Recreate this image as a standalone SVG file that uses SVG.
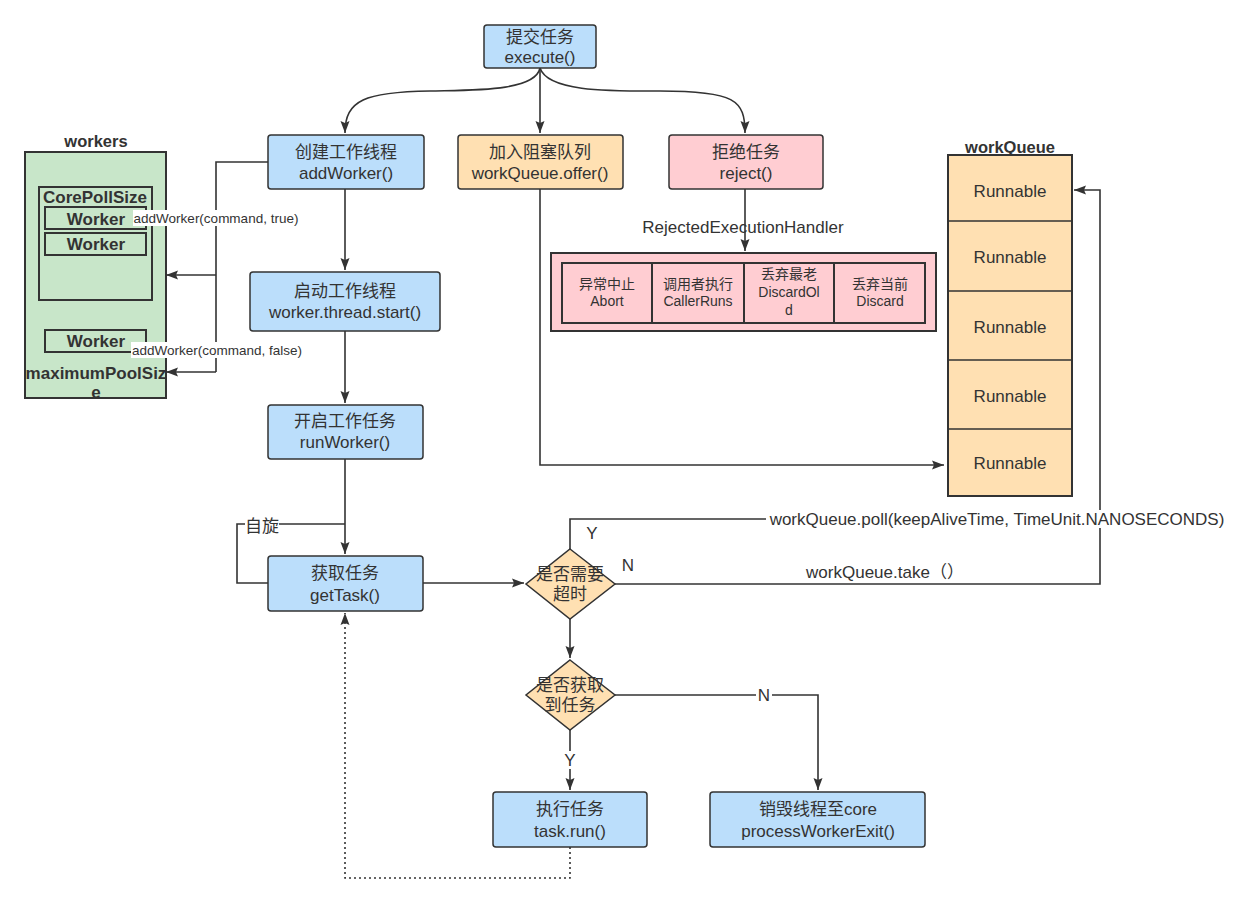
<svg xmlns="http://www.w3.org/2000/svg" width="1245" height="902" viewBox="0 0 1245 902">
<style>
text{font-family:"Liberation Sans","Noto Sans CJK SC",sans-serif;fill:#333;text-anchor:middle;dominant-baseline:central}
.t16{font-size:17px}
.t14{font-size:14px}
.t12{font-size:13.5px}
.b{font-weight:bold}
.blue{fill:#bbdefb;stroke:#333;stroke-width:1.5}
.orange{fill:#ffe0b2;stroke:#333;stroke-width:1.5}
.pink{fill:#ffcdd2;stroke:#333;stroke-width:1.5}
.green{fill:#c8e6c9;stroke:#333;stroke-width:2}
.box{fill:none;stroke:#333;stroke-width:2}
.e{fill:none;stroke:#333;stroke-width:1.6}
.dash{stroke-dasharray:2,3}
.bg{fill:#fff}
</style>
<defs>
<marker id="ah" viewBox="0 0 12 10" refX="12" refY="5" markerWidth="12" markerHeight="10" markerUnits="userSpaceOnUse" orient="auto"><path d="M0,0.5 L12,5 L0,9.5 L2,5 z" fill="#333"/></marker>
</defs>
<rect width="1245" height="902" fill="#fff"/>

<g id="workers">
<text x="96" y="141" class="t16 b" style="font-size:16.5px">workers</text>
<rect x="25" y="152" width="141" height="246" class="green"/>
<rect x="39" y="187" width="113" height="113" class="box"/>
<text x="95" y="197" class="t16 b">CorePollSize</text>
<rect x="45" y="207" width="101" height="22" class="box"/>
<text x="96" y="219" class="t16 b">Worker</text>
<rect x="45" y="233" width="101" height="22" class="box"/>
<text x="96" y="244" class="t16 b">Worker</text>
<rect x="45" y="330" width="101" height="22" class="box"/>
<text x="96" y="341" class="t16 b">Worker</text>
<text x="96" y="373" class="t16 b">maximumPoolSiz</text>
<text x="96" y="392" class="t16 b">e</text>
</g>

<g id="workQueue">
<text x="1010" y="147" class="t16 b" style="font-size:16.5px">workQueue</text>
<rect x="948" y="155" width="124" height="341" class="orange" style="stroke-width:2"/>
<path d="M948,221H1072M948,291H1072M948,360H1072M948,429H1072" class="e"/>
<text x="1010" y="191" class="t16">Runnable</text>
<text x="1010" y="257" class="t16">Runnable</text>
<text x="1010" y="327" class="t16">Runnable</text>
<text x="1010" y="396" class="t16">Runnable</text>
<text x="1010" y="463" class="t16">Runnable</text>
</g>

<g id="handler">
<rect x="551" y="253" width="385" height="78" class="pink" style="stroke-width:2"/>
<rect x="562" y="263" width="90" height="60" class="pink" style="stroke-width:2"/>
<rect x="652" y="263" width="92" height="60" class="pink" style="stroke-width:2"/>
<rect x="744" y="263" width="90" height="60" class="pink" style="stroke-width:2"/>
<rect x="834" y="263" width="91" height="60" class="pink" style="stroke-width:2"/>
<text x="607" y="284" class="t14">异常中止</text>
<text x="607" y="301" class="t14">Abort</text>
<text x="698" y="284" class="t14">调用者执行</text>
<text x="698" y="301" class="t14">CallerRuns</text>
<text x="789" y="274" class="t14">丢弃最老</text>
<text x="789" y="292" class="t14">DiscardOl</text>
<text x="789" y="310" class="t14">d</text>
<text x="880" y="284" class="t14">丢弃当前</text>
<text x="880" y="301" class="t14">Discard</text>
</g>

<g id="connectors">
<path d="M540,68 C535,92 470,90 430,91 C365,92 345,100 345,133" class="e" marker-end="url(#ah)"/>
<path d="M540,68 V133" class="e" marker-end="url(#ah)"/>
<path d="M540,68 C548,92 610,91 660,91 C735,91 745,100 745,133" class="e" marker-end="url(#ah)"/>
<path d="M268,162 H216 V372" class="e"/>
<path d="M216,275 H166" class="e" marker-end="url(#ah)"/>
<path d="M216,372 H166" class="e" marker-end="url(#ah)"/>
<path d="M345,189 V270" class="e" marker-end="url(#ah)"/>
<path d="M345,331 V403" class="e" marker-end="url(#ah)"/>
<path d="M345,459 V554" class="e" marker-end="url(#ah)"/>
<path d="M268,583 H237 V524 H345" class="e"/>
<path d="M423,583 H524" class="e" marker-end="url(#ah)"/>
<path d="M570,549 V519 H1100" class="e"/>
<path d="M615,584 H1100 V190 H1074" class="e" marker-end="url(#ah)"/>
<path d="M570,619 V658" class="e" marker-end="url(#ah)"/>
<path d="M615,695 H818 V790" class="e" marker-end="url(#ah)"/>
<path d="M570,730 V790" class="e" marker-end="url(#ah)"/>
<path d="M570,847 V878 H345 V613" class="e dash" marker-end="url(#ah)"/>
<path d="M540,189 V465 H944" class="e" marker-end="url(#ah)"/>
<path d="M745,189 V251" class="e" marker-end="url(#ah)"/>

<rect x="133" y="210" width="167" height="16" class="bg"/>
<text x="216" y="218" class="t12">addWorker(command, true)</text>
<rect x="131" y="342" width="172" height="16" class="bg"/>
<text x="217" y="350" class="t12">addWorker(command, false)</text>
<text x="743" y="227" class="t16">RejectedExecutionHandler</text>
<rect x="245" y="516" width="34" height="18" class="bg"/>
<text x="262" y="526" class="t16">自旋</text>
<rect x="766" y="510" width="464" height="18" class="bg"/>
<text x="997" y="519" class="t16">workQueue.poll(keepAliveTime, TimeUnit.NANOSECONDS)</text>
<text x="592" y="533" class="t16">Y</text>
<text x="628" y="565" class="t16">N</text>
<text x="885" y="572" class="t16">workQueue.take（）</text>
<rect x="756" y="686" width="16" height="18" class="bg"/>
<text x="764" y="695" class="t16">N</text>
<rect x="562" y="751" width="16" height="18" class="bg"/>
<text x="570" y="760" class="t16">Y</text>
</g>

<g id="execute">
<rect x="484" y="25" width="112" height="43" rx="3" class="blue"/>
<text x="540" y="37" class="t16">提交任务</text>
<text x="540" y="57" class="t16">execute()</text>
</g>
<g id="addWorker">
<rect x="268" y="135" width="156" height="54" rx="3" class="blue"/>
<text x="346" y="152" class="t16">创建工作线程</text>
<text x="346" y="173" class="t16">addWorker()</text>
</g>
<g id="offer">
<rect x="458" y="135" width="165" height="54" rx="3" class="orange"/>
<text x="540" y="152" class="t16">加入阻塞队列</text>
<text x="540" y="173" class="t16">workQueue.offer()</text>
</g>
<g id="reject">
<rect x="669" y="135" width="154" height="54" rx="3" class="pink"/>
<text x="746" y="152" class="t16">拒绝任务</text>
<text x="746" y="173" class="t16">reject()</text>
</g>
<g id="start">
<rect x="250" y="272" width="190" height="59" rx="3" class="blue"/>
<text x="345" y="291" class="t16">启动工作线程</text>
<text x="345" y="312" class="t16">worker.thread.start()</text>
</g>
<g id="runWorker">
<rect x="268" y="405" width="155" height="54" rx="3" class="blue"/>
<text x="345" y="421" class="t16">开启工作任务</text>
<text x="345" y="442" class="t16">runWorker()</text>
</g>
<g id="getTask">
<rect x="268" y="556" width="155" height="55" rx="3" class="blue"/>
<text x="345" y="573" class="t16">获取任务</text>
<text x="345" y="595" class="t16">getTask()</text>
</g>
<g id="timeout">
<path d="M570,549 L615,584 L570,619 L526,584 Z" class="orange"/>
<text x="570" y="574" class="t16">是否需要</text>
<text x="570" y="594" class="t16">超时</text>
</g>
<g id="gotTask">
<path d="M570,660 L615,695 L570,730 L526,695 Z" class="orange"/>
<text x="570" y="685" class="t16">是否获取</text>
<text x="570" y="705" class="t16">到任务</text>
</g>
<g id="run">
<rect x="493" y="792" width="154" height="55" rx="3" class="blue"/>
<text x="570" y="809" class="t16">执行任务</text>
<text x="570" y="831" class="t16">task.run()</text>
</g>
<g id="exit">
<rect x="710" y="792" width="215" height="55" rx="3" class="blue"/>
<text x="818" y="809" class="t16">销毁线程至core</text>
<text x="818" y="831" class="t16">processWorkerExit()</text>
</g>
</svg>
